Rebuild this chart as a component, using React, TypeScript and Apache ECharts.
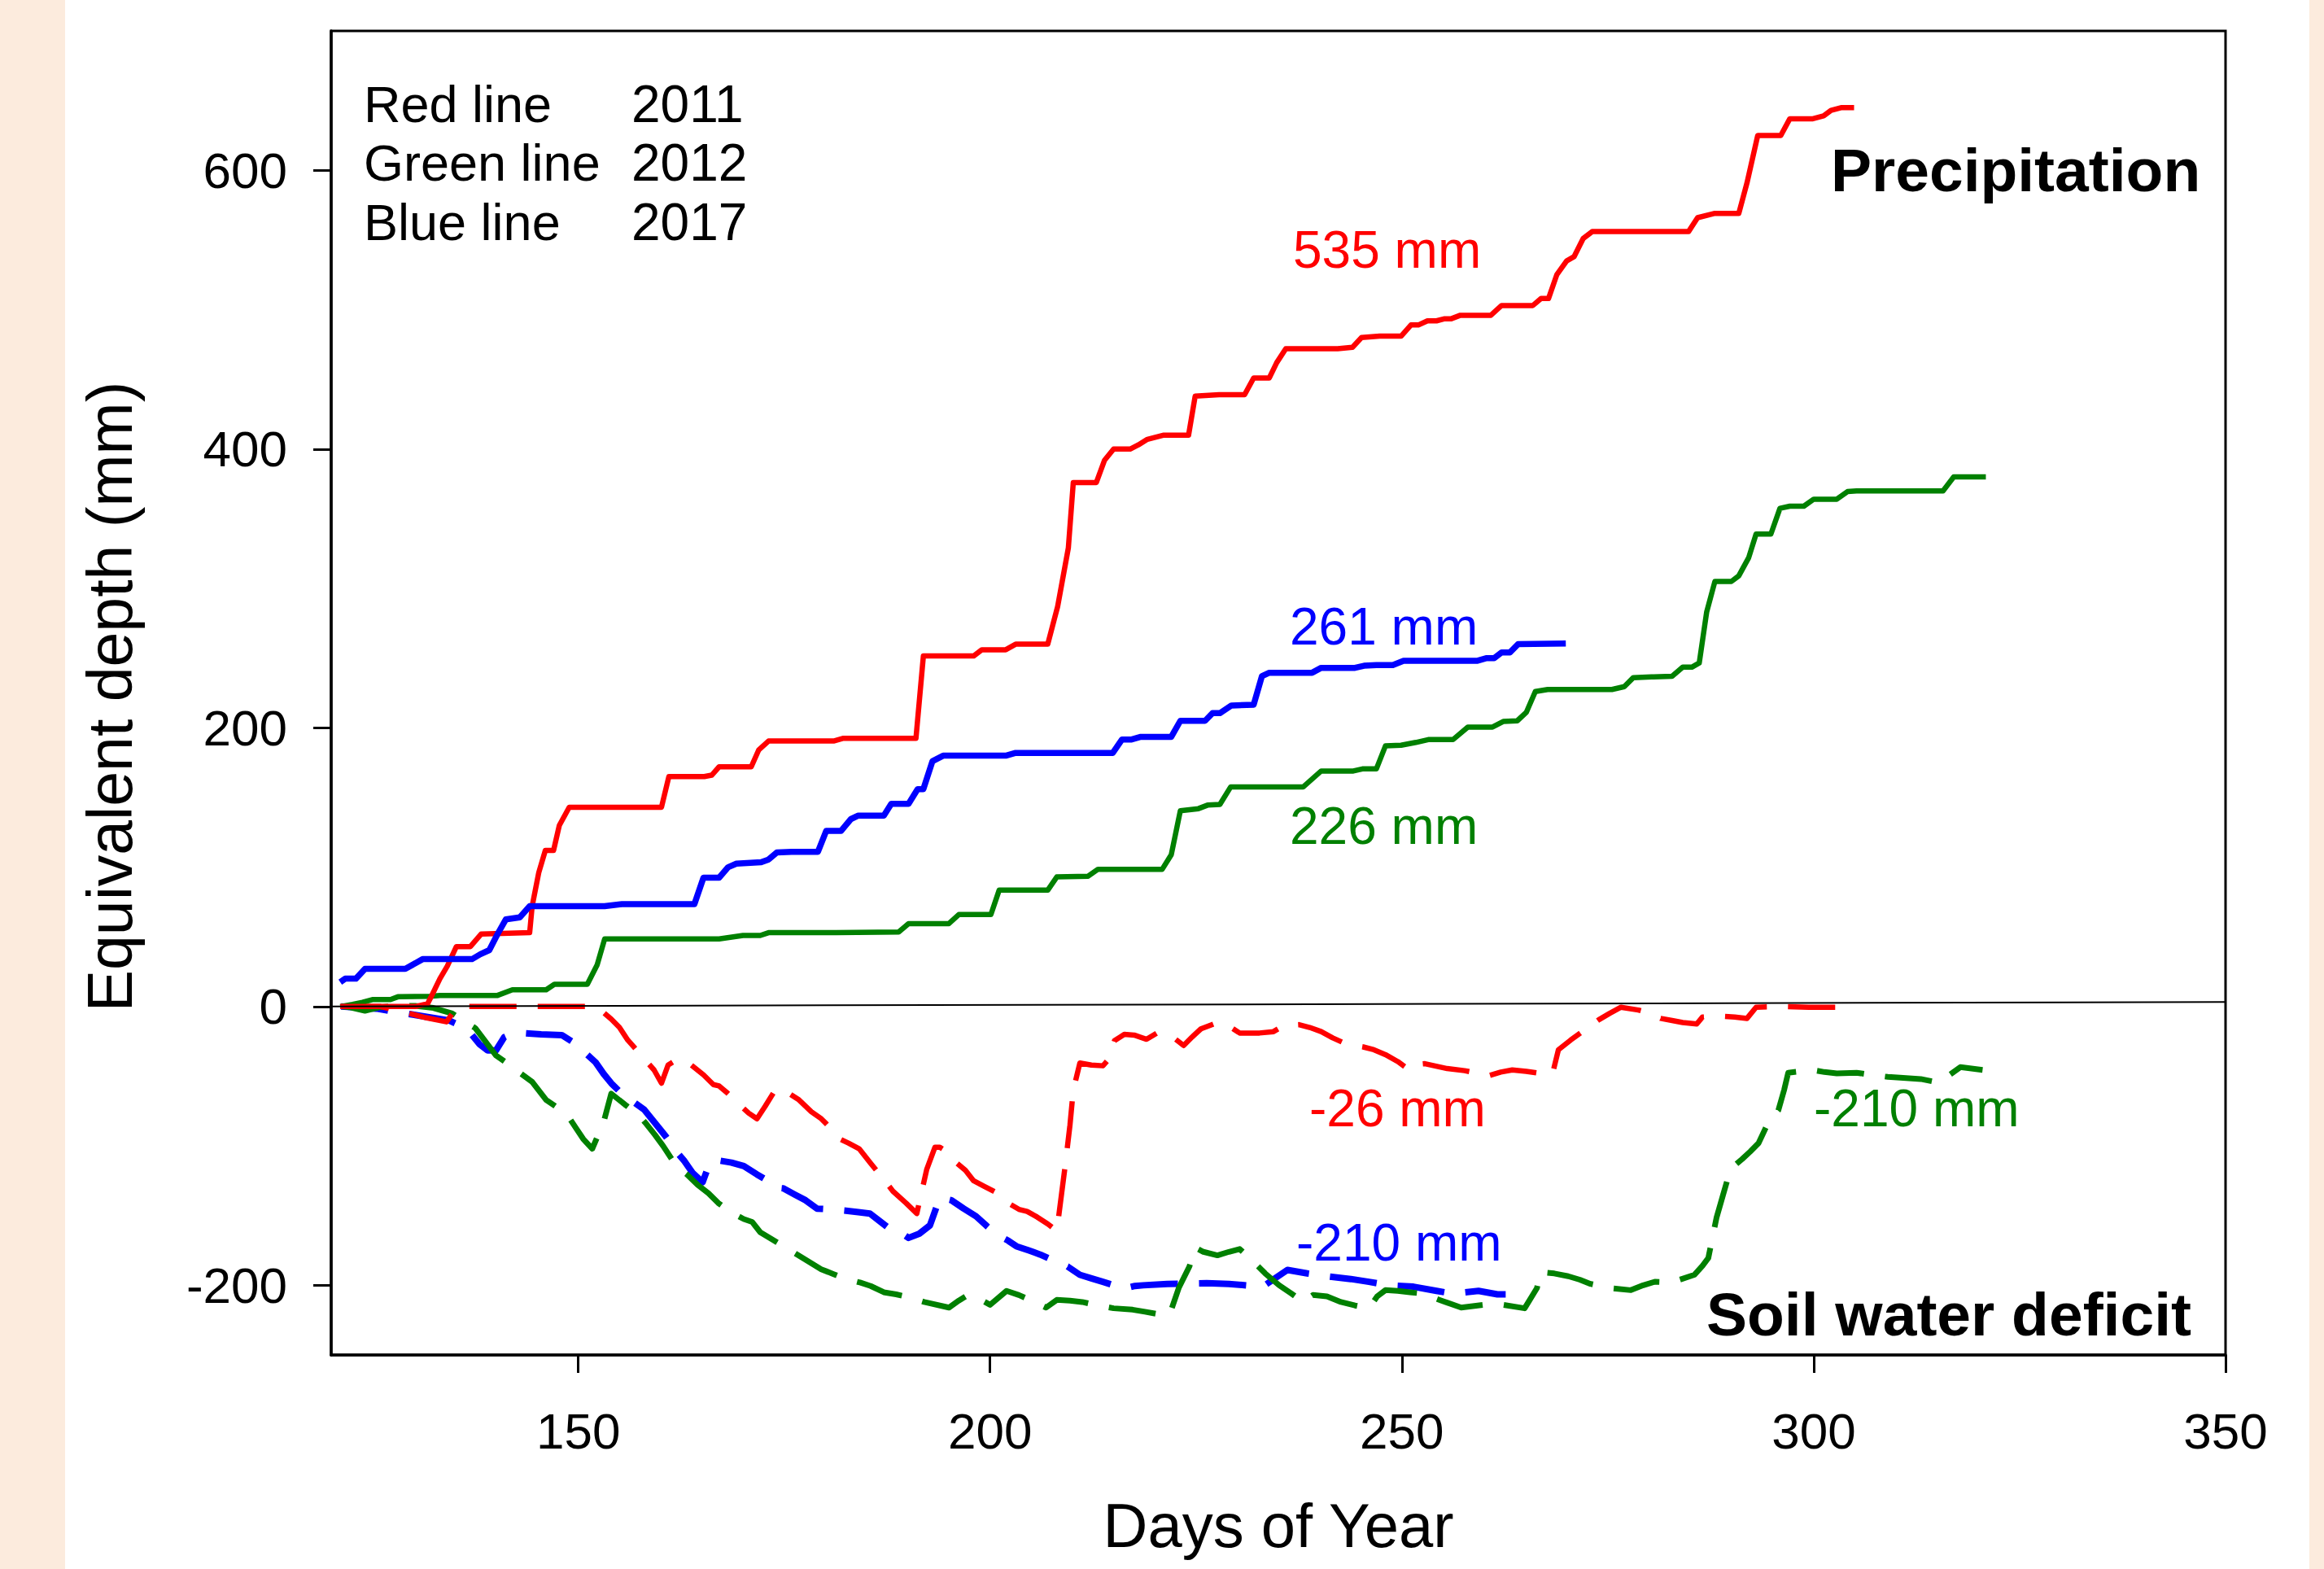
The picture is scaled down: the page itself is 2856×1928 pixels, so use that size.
import React, { useEffect, useRef } from "react";
import * as echarts from "echarts";

// ---------- data (day of year, equivalent depth mm) ----------
const precip2011: [number, number][] = [
  [121.1, 0], [130.2, 0], [131.7, 2], [132.3, 9], [133.2, 20], [134.1, 29], [135.2, 43], [136.9, 43],
  [138.2, 52], [144.1, 53], [144.4, 72], [145.2, 96], [146.0, 112], [147.0, 112], [147.7, 130],
  [148.9, 143], [160.1, 143], [161.0, 165], [165.3, 165], [166.2, 166], [167.1, 172], [171.0, 172],
  [171.9, 184], [173.1, 190.5], [181.0, 190.5], [182.2, 192.5], [191.0, 192.5], [191.9, 251.5],
  [198.0, 251.5], [199.0, 256], [201.9, 256], [203.1, 260], [207.0, 260], [208.2, 287], [209.5, 329],
  [210.1, 376], [212.9, 376], [213.9, 392], [215.0, 400], [217.0, 400], [218.0, 403], [219.1, 407],
  [221.1, 410], [224.1, 410], [224.9, 438], [227.8, 439], [230.9, 439], [232.0, 451], [233.9, 451],
  [234.8, 462], [235.9, 472], [242.2, 472], [244.0, 473], [245.1, 480], [247.3, 481], [249.9, 481],
  [251.1, 489], [252.0, 489], [253.1, 492], [254.2, 492], [255.2, 493.5], [256.0, 493.5], [257.1, 496],
  [260.8, 496], [262.1, 503], [265.9, 503], [266.9, 508], [267.8, 508], [268.8, 525], [270.0, 535],
  [270.9, 538], [272.0, 551], [273.1, 556], [284.8, 556], [285.9, 566], [287.9, 569], [290.9, 569],
  [291.9, 591], [293.2, 625], [296.0, 625], [297.1, 637], [299.9, 637], [301.2, 639], [302.1, 643],
  [303.4, 645], [304.9, 645],
];

const precip2012: [number, number][] = [
  [121.1, 0], [122.6, 1.5], [123.8, 3], [125.0, 5], [127.2, 5], [128.1, 7], [132.0, 7.3], [133.2, 8],
  [140.2, 8], [142.0, 12], [146.1, 12], [147.1, 16], [151.1, 16], [152.3, 30], [153.2, 48.5],
  [167.1, 48.5], [170.0, 51], [172.1, 51], [173.1, 53], [181.3, 53], [188.9, 53.5], [190.1, 59.5],
  [195.0, 59.5], [196.2, 66], [200.1, 66], [201.1, 83.5], [207.0, 83.5], [208.1, 93], [211.9, 93.5],
  [213.1, 98.5], [220.9, 98.5], [222.0, 109], [223.1, 140.5], [225.3, 142], [226.4, 144.5],
  [227.9, 145], [229.2, 157.5], [238.0, 157.5], [240.2, 169], [244.1, 169], [245.2, 170.5],
  [246.9, 170.5], [248.0, 187], [249.9, 187.5], [251.7, 189.5], [253.2, 191.5], [256.2, 191.5],
  [258.0, 200.5], [261.0, 200.5], [262.3, 204.5], [264.0, 205], [265.1, 211], [266.2, 226],
  [267.7, 227.5], [275.5, 227.5], [277.0, 229.5], [278.1, 236], [280.3, 236.5], [282.8, 237],
  [284.1, 243.5], [285.2, 243.5], [286.1, 246.5], [287.0, 283], [288.0, 305], [290.0, 305],
  [290.9, 309], [292.1, 322], [293.0, 339], [294.8, 339], [295.9, 357.5], [297.1, 359], [298.8, 359],
  [300.0, 364], [302.8, 364], [304.1, 369.5], [305.2, 370], [315.7, 370], [317.0, 380], [320.9, 380],
];

const precip2017: [number, number][] = [
  [121.1, 17.5], [121.7, 20], [123.0, 20], [124.1, 27], [129.0, 27], [131.1, 34], [137.1, 34],
  [138.1, 37.5], [139.2, 40.5], [140.2, 52], [141.2, 62.5], [142.9, 64], [144.1, 72], [153.2, 72],
  [155.3, 73.5], [164.1, 73.5], [165.2, 92.5], [167.1, 92.5], [168.2, 100], [169.2, 102.5],
  [172.2, 103.5], [173.1, 105.5], [174.1, 110.5], [175.9, 111], [179.1, 111], [180.1, 126],
  [181.9, 126], [183.1, 134.5], [184.0, 137], [187.1, 137], [188.0, 145.5], [190.1, 145.5],
  [191.2, 156], [191.9, 156], [193.0, 176], [194.3, 180], [201.9, 180], [203.1, 182], [214.9, 182],
  [216.0, 191.5], [217.1, 191.5], [218.3, 193.5], [222.0, 193.5], [223.1, 205], [226.1, 205],
  [227.0, 210.5], [227.9, 210.5], [229.3, 216], [232.0, 216.5], [233.0, 237], [233.9, 239.5],
  [239.1, 239.5], [240.2, 243], [244.3, 243], [245.4, 244.5], [246.9, 245], [248.9, 245],
  [250.2, 248], [259.1, 248], [260.3, 250], [261.2, 250], [262.1, 254], [263.1, 254], [264.1, 260],
  [269.9, 260.5],
];

const deficit2011: [number, number][] = [
  [121.3, 0], [126.0, 0], [128.9, -4], [131.5, -8], [134.0, -11], [135.2, -1], [135.6, 0], [151.4, 0],
  [152.7, -2.5], [154.0, -9], [155.0, -15], [156.0, -24], [157.2, -32], [158.3, -39.5], [159.2, -45.5],
  [160.1, -55], [160.9, -42], [162.0, -38], [163.2, -39.5], [165.2, -49], [166.4, -56], [167.1, -57],
  [168.1, -62], [169.5, -70], [170.7, -76.5], [171.7, -80.5], [172.7, -71.5], [174.0, -59],
  [175.5, -62], [176.8, -67], [178.3, -75.5], [179.5, -80.5], [180.6, -87], [181.4, -94], [182.8, -98],
  [184.1, -102], [185.5, -112.5], [187.1, -124], [188.2, -132.5], [189.8, -141], [191.1, -148.5],
  [192.3, -117], [193.3, -101], [193.9, -101], [195.0, -105], [196.0, -112.5], [197.0, -117.5],
  [198.0, -125], [199.3, -129], [200.6, -133], [202.2, -141], [203.5, -145.5], [204.5, -147],
  [205.7, -151], [207.0, -156], [208.1, -161], [209.1, -115], [209.7, -85], [210.1, -60],
  [210.9, -40.5], [212.3, -42], [213.7, -42.5], [214.3, -38.5], [215.1, -24.5], [216.3, -20],
  [217.5, -20.5], [219.0, -23.5], [220.4, -18.5], [222.2, -22], [223.5, -28], [224.5, -22],
  [225.6, -16], [227.6, -11.5], [229.0, -14], [230.3, -19], [232.7, -19], [234.4, -18], [235.7, -13.5],
  [237.5, -13], [238.8, -15], [240.2, -18], [241.6, -22.5], [243.3, -27], [245.3, -29], [246.6, -31],
  [248.0, -34.5], [249.5, -39.5], [250.9, -45.5], [251.8, -41.5], [252.8, -41], [255.5, -44.5],
  [257.6, -46], [259.3, -48], [260.6, -49.5], [262.0, -47], [263.4, -45.5], [265.1, -46.5],
  [266.8, -48], [268.3, -48], [269.0, -31], [270.5, -24], [271.9, -18], [273.9, -9.5], [275.2, -5],
  [276.6, -0.5], [278.7, -2.5], [280.0, -4.5], [281.4, -8.5], [282.8, -10], [284.1, -11.5],
  [285.8, -12.5], [286.5, -7.5], [288.9, -7], [290.4, -7.5], [291.9, -8.5], [293.0, -0.5], [296.4, 0],
  [299.4, -0.5], [304.2, -0.5],
];

const deficit2012: [number, number][] = [
  [121.3, 0], [122.2, -0.5], [124.1, -3], [125.9, -0.5], [128.0, 0.5], [130.2, 0.5], [132.4, -1],
  [134.7, -5], [136.0, -10], [137.5, -15.5], [140.0, -35], [141.7, -42], [143.0, -48], [144.4, -54],
  [146.1, -67], [147.6, -73], [148.8, -79], [149.7, -87], [150.6, -95], [151.7, -102], [153.1, -82.5],
  [154.0, -62.5], [155.7, -70.5], [157.3, -77.5], [158.3, -84.5], [159.3, -92], [160.3, -100],
  [161.9, -114.5], [163.2, -120.5], [164.5, -128], [165.8, -134], [167.0, -141], [168.5, -147.5],
  [170.1, -152.5], [171.1, -154.5], [172.1, -162], [173.5, -167], [174.9, -172], [177.0, -179.5],
  [179.5, -188.5], [181.0, -192], [182.5, -195.5], [184.2, -198], [185.5, -200.5], [187.1, -205],
  [188.6, -206.5], [190.1, -208.5], [192.0, -212], [195.0, -216], [196.2, -211], [197.3, -207],
  [198.3, -208.5], [200.0, -214], [202.0, -204], [203.5, -207], [205.0, -211], [206.8, -216],
  [208.1, -210.5], [209.7, -211], [211.2, -212], [212.7, -214], [215.0, -216.5], [217.3, -217.5],
  [218.8, -219], [220.2, -220.5], [221.8, -221], [222.9, -202], [224.2, -186.5], [224.9, -173],
  [225.9, -176], [227.6, -178.5], [229.0, -176], [230.3, -174], [231.7, -181.5], [233.4, -191.5],
  [235.1, -200], [236.6, -206], [238.0, -212], [239.2, -207], [240.9, -208], [242.6, -212],
  [244.3, -214.5], [246.0, -216.5], [247.0, -208], [248.0, -203.5], [249.5, -204], [251.0, -205],
  [252.5, -206], [254.8, -211], [257.2, -216], [258.6, -215], [260.0, -214], [262.3, -214],
  [264.9, -216.5], [266.4, -202], [266.8, -190.5], [268.5, -191.5], [270.2, -193.5], [271.6, -196],
  [272.9, -199], [275.3, -202], [277.8, -203.5], [279.3, -200], [280.7, -197.5], [282.7, -198],
  [285.5, -192.5], [286.5, -186], [287.2, -180.5], [288.2, -151.5], [289.0, -135], [289.9, -116.5],
  [291.3, -109.5], [292.3, -104], [293.3, -98], [294.3, -85.5], [295.7, -74.5], [296.4, -60],
  [296.9, -47.5], [298.4, -46.5], [299.8, -45.5], [301.3, -47], [302.8, -48], [305.2, -47.5],
  [307.6, -49.5], [309.0, -50.5], [310.5, -51], [313.0, -52], [315.1, -54.5], [316.5, -49],
  [317.8, -43.5], [320.5, -45.5],
];

const deficit2017: [number, number][] = [
  [121.2, 0], [125.5, -1.5], [129.1, -5], [134.3, -10], [135.8, -14], [136.9, -19], [138.0, -27],
  [139.0, -31.5], [140.0, -31.5], [141.0, -22], [142.0, -19.5], [143.2, -19], [145.5, -20],
  [148.0, -20.5], [149.5, -26], [150.8, -33], [152.1, -40], [153.1, -48.5], [154.0, -55],
  [155.2, -62], [156.6, -68], [158.0, -74], [159.3, -83.5], [160.6, -93], [161.9, -104],
  [162.9, -111], [163.9, -119.5], [165.1, -126], [166.0, -111.5], [167.1, -110.5], [168.6, -112],
  [170.1, -114.5], [171.7, -120.5], [173.0, -125], [174.0, -130], [174.9, -130.5], [176.3, -135],
  [177.6, -139], [179.0, -145], [180.6, -145.5], [182.5, -146.5], [184.0, -147.5], [185.4, -148.5],
  [186.5, -153.5], [187.8, -159.5], [189.1, -162], [190.1, -166], [191.4, -163], [192.7, -157],
  [193.9, -137], [195.3, -139], [196.8, -145], [198.3, -150.5], [199.6, -157.5], [200.9, -164],
  [202.2, -168], [203.2, -172], [204.7, -175], [206.1, -178], [207.8, -182.5], [209.4, -186.5],
  [210.9, -192.5], [212.3, -195], [213.7, -197.5], [215.0, -200], [216.2, -202.5], [217.6, -200.5],
  [218.6, -200], [221.5, -199], [226.3, -198.5], [229.0, -199], [233.1, -201], [234.6, -195],
  [236.1, -189], [238.5, -191.5], [240.9, -193.5], [243.8, -195.5], [246.0, -197.5], [248.4, -200],
  [251.4, -201], [254.2, -204], [256.2, -206], [259.3, -204], [261.6, -206.5], [262.6, -206.5],
];

const zeroLine: [number, number][] = [[120, 0], [350, 3.3]];

const xTicks = [150, 200, 250, 300, 350];
const yTicks = [-200, 0, 200, 400, 600];

const legendNames = ["Red line", "Green line", "Blue line"];
const legendYears = ["2011", "2012", "2017"];

const RED = "#FF0000";
const GREEN = "#008000";
const BLUE = "#0000FF";
const FONT = "'Liberation Sans', Arial, Helvetica, sans-serif";

function txt(text: string, x: number, y: number, fill: string, fontSize: number, extra: any = {}) {
  return {
    type: "text",
    x,
    y,
    z: 100,
    silent: true,
    style: {
      text,
      fill,
      fontSize,
      fontFamily: FONT,
      fontWeight: extra.bold ? "bold" : "normal",
      align: extra.align || "left",
      verticalAlign: "middle",
    },
    rotation: extra.rotation || 0,
  };
}

export default function App() {
  const ref = useRef<HTMLDivElement>(null);

  useEffect(() => {
    if (!ref.current) return;
    const chart = echarts.init(ref.current, null, { renderer: "svg" });

    const solid = (name: string, data: [number, number][], color: string, width: number) => ({
      name,
      type: "line",
      data,
      showSymbol: false,
      symbol: "none",
      silent: true,
      lineStyle: { color, width, type: "solid", cap: "butt", join: "round" },
      z: 3,
    });
    const dashed = (name: string, data: [number, number][], color: string, width: number) => ({
      name,
      type: "line",
      data,
      showSymbol: false,
      symbol: "none",
      silent: true,
      lineStyle: { color, width, type: [58, 26], cap: "butt", join: "round" },
      z: 2,
    });

    const graphics: any[] = [];
    legendNames.forEach((n, i) => {
      graphics.push(txt(n, 447, 127.5 + i * 72.5, "#000", 63));
      graphics.push(txt(legendYears[i], 776, 127.5 + i * 72.5, "#000", 64));
    });
    graphics.push(txt("Precipitation", 2250, 209, "#000", 75, { bold: true }));
    graphics.push(txt("Soil water deficit", 2097, 1615, "#000", 75, { bold: true }));
    graphics.push(txt("535 mm", 1589, 307, RED, 64));
    graphics.push(txt("261 mm", 1585, 770, BLUE, 64));
    graphics.push(txt("226 mm", 1585, 1015, GREEN, 64));
    graphics.push(txt("-26 mm", 1609, 1362, RED, 64));
    graphics.push(txt("-210 mm", 2229, 1362, GREEN, 64));
    graphics.push(txt("-210 mm", 1593, 1527, BLUE, 64));
    graphics.push(txt("Days of Year", 1571, 1874, "#000", 76, { align: "center" }));
    graphics.push(txt("Equivalent depth (mm)", 135, 856, "#000", 77, { align: "center", rotation: Math.PI / 2 }));

    chart.setOption({
      animation: false,
      backgroundColor: "transparent",
      grid: {
        left: 407,
        right: 121,
        top: 38,
        bottom: 263,
        show: true,
        borderColor: "#000",
        borderWidth: 3,
        backgroundColor: "transparent",
      },
      xAxis: {
        type: "value",
        min: 120,
        max: 350,
        axisLine: { show: true, onZero: false, lineStyle: { color: "#000", width: 3.5 } },
        axisTick: { show: true, inside: false, length: 22, customValues: xTicks, lineStyle: { color: "#000", width: 3 } },
        axisLabel: { customValues: xTicks, color: "#000", fontSize: 62, fontFamily: FONT, margin: 62 },
        splitLine: { show: false },
      },
      yAxis: {
        type: "value",
        min: -250,
        max: 700,
        axisLine: { show: true, onZero: false, lineStyle: { color: "#000", width: 3.5 } },
        axisTick: { show: true, inside: false, length: 22, customValues: yTicks, lineStyle: { color: "#000", width: 3 } },
        axisLabel: { customValues: yTicks, color: "#000", fontSize: 62, fontFamily: FONT, margin: 54 },
        splitLine: { show: false },
      },
      series: [
        dashed("Deficit 2017", deficit2017, BLUE, 8),
        dashed("Deficit 2012", deficit2012, GREEN, 7),
        dashed("Deficit 2011", deficit2011, RED, 6.5),
        solid("Precipitation 2012", precip2012, GREEN, 6.5),
        solid("Precipitation 2011", precip2011, RED, 6.5),
        solid("Precipitation 2017", precip2017, BLUE, 7.5),
        {
          name: "Zero",
          type: "line",
          data: zeroLine,
          showSymbol: false,
          symbol: "none",
          silent: true,
          lineStyle: { color: "#000", width: 2 },
          z: 5,
        },
      ],
      graphic: graphics,
    });

    return () => chart.dispose();
  }, []);

  return (
    <div
      style={{
        position: "fixed",
        left: 0,
        top: 0,
        width: 2856,
        height: 1928,
        background: "#FCEBDD",
        overflow: "hidden",
      }}
    >
      <div style={{ position: "absolute", left: 80, top: 0, width: 2758, height: 1928, background: "#FFFFFF" }} />
      <div ref={ref} style={{ position: "absolute", left: 0, top: 0, width: 2856, height: 1928 }} />
    </div>
  );
}
